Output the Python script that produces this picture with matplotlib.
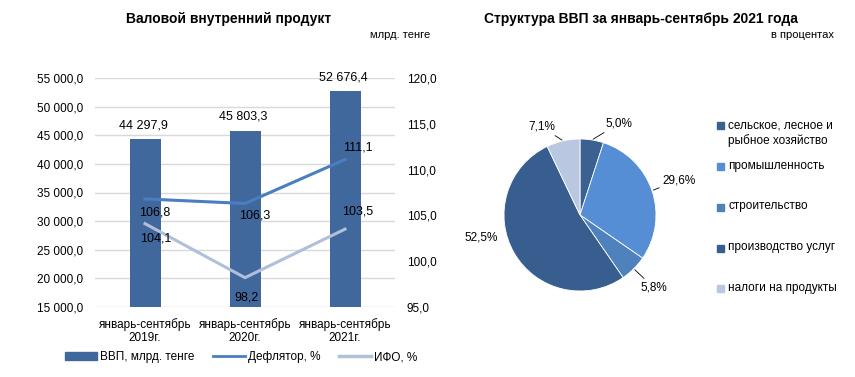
import matplotlib.pyplot as plt
from matplotlib.patches import Patch, Rectangle
from matplotlib.lines import Line2D
import numpy as np

plt.rcParams['font.family'] = ['Liberation Sans', 'DejaVu Sans']
plt.rcParams['font.size'] = 8.5

# данные
periods = ["январь-сентябрь\n2019г.", "январь-сентябрь\n2020г.", "январь-сентябрь\n2021г."]
gdp = [44297.9, 45803.3, 52676.4]
deflator = [106.8, 106.3, 111.1]
ifo = [104.1, 98.2, 103.5]

sectors = ["сельское, лесное и\nрыбное хозяйство", "промышленность", "строительство",
           "производство услуг", "налоги на продукты"]
shares = [5.0, 29.6, 5.8, 52.5, 7.1]

bar_color = "#41689C"
defl_color = "#4A7EC0"
ifo_color = "#B0BFDA"
pie_colors = ["#3B6191", "#558ED5", "#4F81BD", "#375E8F", "#B9C7E0"]

W, H = 855, 377
fig = plt.figure(figsize=(W / 100, H / 100), dpi=100)

def box(x0, y0, x1, y1):
    # пиксели -> доли фигуры (y сверху вниз)
    return [x0 / W, 1 - y1 / H, (x1 - x0) / W, (y1 - y0) / H]

def fmt(v):
    return f"{v:,.1f}".replace(",", " ").replace(".", ",")

# ---------- левый график ----------
ax = fig.add_axes(box(95, 78, 395, 307))
x = np.arange(len(periods))
ax.bar(x, gdp, width=0.31, color=bar_color, zorder=2)
ax.set_xlim(-0.5, 2.5)
ax.set_ylim(15000, 55000)
yt = np.arange(15000, 55001, 5000)
ax.set_yticks(yt)
ax.set_yticklabels([fmt(v) for v in yt])
ax.set_xticks(x)
ax.set_xticklabels(periods, linespacing=1.15)
ax.tick_params(length=0, pad=8.5)
ax.tick_params(axis='x', pad=8)
ax.grid(axis='y', color="#D9D9D9", lw=1, zorder=0)
for s in ax.spines.values():
    s.set_visible(False)
for xi, v in zip(x, gdp):
    ax.annotate(fmt(v), (xi, v), xytext=(-1, 10), textcoords="offset points",
                ha="center", va="center", fontsize=9)

ax2 = ax.twinx()
ax2.set_ylim(95, 120)
yt2 = np.arange(95, 121, 5)
ax2.set_yticks(yt2)
ax2.set_yticklabels([fmt(v) for v in yt2])
ax2.tick_params(length=0, pad=8.5)
for s in ax2.spines.values():
    s.set_visible(False)
ax2.plot(x, deflator, color=defl_color, lw=2.2, zorder=3)
ax2.plot(x, ifo, color=ifo_color, lw=2.2, zorder=3)
defl_off = [(7, -10), (7, -9), (9, 9)]
ifo_off = [(8, -11), (1, -14), (9, 13)]
for xi, v, o in zip(x, deflator, defl_off):
    ax2.annotate(fmt(v), (xi, v), xytext=o, textcoords="offset points",
                 ha="center", va="center", fontsize=9)
for xi, v, o in zip(x, ifo, ifo_off):
    ax2.annotate(fmt(v), (xi, v), xytext=o, textcoords="offset points",
                 ha="center", va="center", fontsize=9)

fig.text(229 / W, 1 - 19 / H, "Валовой внутренний продукт", ha="center", va="center",
         fontsize=10, fontweight="bold")
fig.text(430 / W, 1 - 35 / H, "млрд. тенге", ha="right", va="center", fontsize=8)

handles = [Patch(color=bar_color), Line2D([], [], color=defl_color, lw=2),
           Line2D([], [], color=ifo_color, lw=2.5)]
fig.legend(handles, ["ВВП, млрд. тенге", "Дефлятор, %", "ИФО, %"], ncol=3,
           loc="center", bbox_to_anchor=(241 / W, 1 - 357 / H), frameon=False,
           handlelength=2.7, handleheight=0.6, columnspacing=1.6, handletextpad=0.25,
           fontsize=8.5)

# ---------- круговая диаграмма ----------
r = 76
cx, cy = 580, 215
pax = fig.add_axes(box(cx - r, cy - r, cx + r, cy + r))
wedges, _ = pax.pie(shares, colors=pie_colors, startangle=90, counterclock=False,
                    wedgeprops=dict(lw=0.6, edgecolor="white"))
pax.set_xlim(-1, 1)
pax.set_ylim(-1, 1)

# подписи долей
lab_pos = [(0.33, 1.2), (1.08, 0.46), (0.79, -0.95), (-1.3, -0.29), (-0.33, 1.16)]
lead = [True, True, True, False, True]
for w, v, (tx, ty), ld in zip(wedges, shares, lab_pos, lead):
    ang = np.deg2rad((w.theta1 + w.theta2) / 2)
    ex, ey = np.cos(ang), np.sin(ang)
    txt = f"{v:.1f}%".replace(".", ",")
    ha = "left" if tx > 0 else "right"
    if ld:
        pax.annotate(txt, (ex, ey), xytext=(tx, ty), ha=ha, va="center", fontsize=8.5,
                     arrowprops=dict(arrowstyle="-", color="black", lw=0.6,
                                     shrinkA=0, shrinkB=1),
                     annotation_clip=False)
    else:
        pax.text(tx, ty, txt, ha="center", va="center", fontsize=8.5)

fig.text(641 / W, 1 - 19 / H, "Структура ВВП за январь-сентябрь 2021 года", ha="center",
         va="center", fontsize=10, fontweight="bold")
fig.text(834 / W, 1 - 35 / H, "в процентах", ha="right", va="center", fontsize=8)

# легенда круговой диаграммы
for i, (name, c) in enumerate(zip(sectors, pie_colors)):
    yc = 126 + 40.7 * i
    fig.patches.append(Rectangle(((717) / W, 1 - (yc + 3.5) / H), 7 / W, 7 / H,
                                 color=c, transform=fig.transFigure, figure=fig))
    fig.text(728 / W, 1 - (yc - 7) / H, name, ha="left", va="top", fontsize=8.5,
             linespacing=1.3)

fig.savefig("out.png", dpi=100)
